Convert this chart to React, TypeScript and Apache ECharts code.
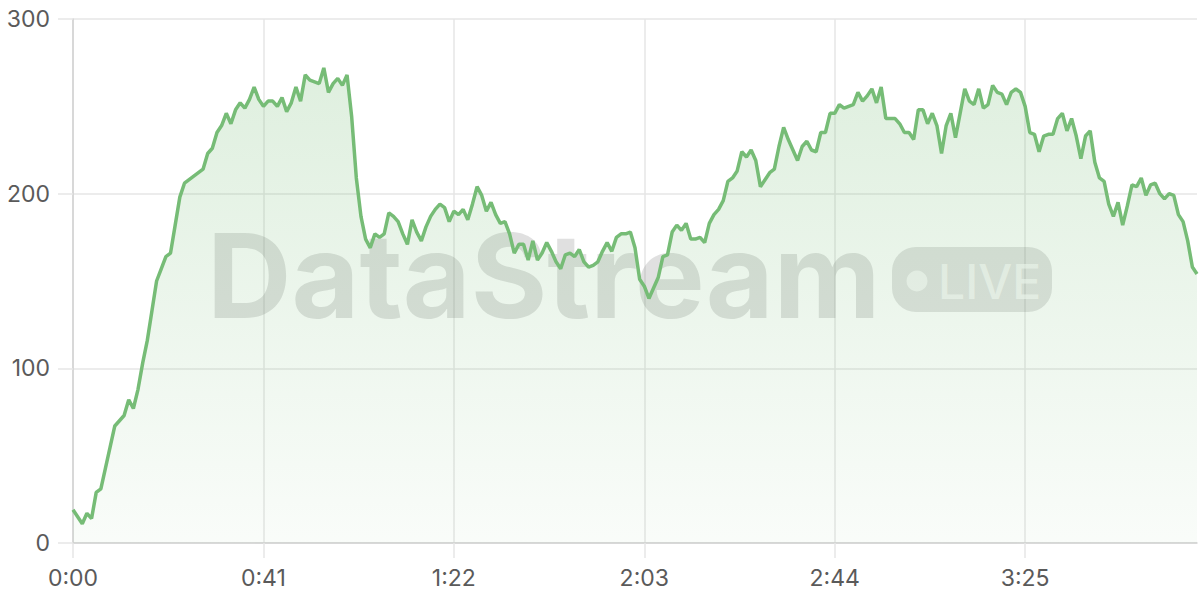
import React, { useEffect, useRef } from "react";
import * as echarts from "echarts";

const values: number[] = [
  19, 15, 11, 17, 14, 29, 31, 43, 55, 67,
  70, 73, 82, 77, 88, 103, 116, 133, 150, 157,
  164, 166, 182, 198, 206, 208, 210, 212, 214, 223,
  226, 235, 239, 246, 240, 248, 252, 249, 254, 261,
  254, 250, 253, 253, 250, 255, 247, 252, 261, 253,
  268, 265, 264, 263, 272, 258, 263, 266, 262, 268,
  244, 209, 187, 174, 169, 177, 175, 177, 189, 187,
  184, 177, 171, 185, 178, 173, 181, 187, 191, 194,
  192, 184, 190, 188, 191, 185, 194, 204, 199, 190,
  195, 188, 183, 184, 177, 166, 171, 171, 162, 173,
  162, 166, 172, 167, 161, 157, 165, 166, 164, 168,
  161, 158, 159, 161, 167, 172, 167, 175, 177, 177,
  178, 169, 151, 147, 140, 146, 152, 164, 165, 178,
  182, 179, 183, 174, 174, 175, 172, 183, 188, 191,
  196, 207, 209, 213, 224, 221, 225, 219, 204, 208,
  212, 214, 227, 238, 231, 225, 219, 227, 230, 225,
  224, 235, 235, 246, 246, 251, 249, 250, 251, 258,
  253, 256, 260, 252, 261, 243, 243, 243, 240, 235,
  235, 231, 248, 248, 240, 246, 239, 223, 239, 246,
  232, 246, 260, 253, 251, 260, 249, 251, 262, 258,
  257, 251, 258, 260, 258, 250, 235, 234, 224, 233,
  234, 234, 243, 246, 236, 243, 233, 220, 233, 236,
  218, 209, 207, 194, 187, 195, 182, 193, 205, 204,
  209, 199, 205, 206, 200, 197, 200, 199, 188, 184,
  173, 158, 154,
];

const fmtTime = (s: number) => `${Math.floor(s / 60)}:${String(s % 60).padStart(2, "0")}`;
const categories: string[] = values.map((_, i) => fmtTime(i));

const yTicks = { min: 0, max: 300, interval: 100 };
const labelEvery = 40;

const watermarkText = "DataStream";
const liveText = "LIVE";

export default function App() {
  const ref = useRef<HTMLDivElement>(null);

  useEffect(() => {
    if (!ref.current) return;
    const chart = echarts.init(ref.current, undefined, { renderer: "svg" });
    const labelColor = "#5a5a5a";
    const font = "Inter, 'Noto Sans', sans-serif";
    chart.setOption({
      animation: false,
      grid: { left: 73, right: 3, top: 19, bottom: 57, containLabel: false },
      xAxis: {
        type: "category",
        boundaryGap: false,
        data: categories,
        axisLine: { show: true, lineStyle: { color: "#d2d2d2", width: 1.5 } },
        axisTick: { show: true, length: 15, interval: labelEvery, lineStyle: { color: "#e6e6e6", width: 1.5 } },
        axisLabel: { interval: labelEvery, color: labelColor, fontSize: 23, fontFamily: font, margin: 23 },
        splitLine: { show: true, interval: labelEvery, lineStyle: { color: "#e6e6e6", width: 1.5 } },
      },
      yAxis: {
        type: "value",
        min: yTicks.min,
        max: yTicks.max,
        interval: yTicks.interval,
        axisLine: { show: true, lineStyle: { color: "#d2d2d2", width: 1.5 } },
        axisTick: { show: true, length: 15, lineStyle: { color: "#e6e6e6", width: 1.5 } },
        axisLabel: { color: labelColor, fontSize: 23, fontFamily: font, margin: 23 },
        splitLine: { show: true, lineStyle: { color: "#e6e6e6", width: 1.5 } },
      },
      graphic: [
        {
          type: "text",
          z: 1,
          left: 207,
          top: 217,
          style: {
            text: watermarkText,
            font: `bold 117px ${font}`,
            fill: "rgba(110,110,110,0.21)",
          },
        },
        {
          type: "rect",
          z: 1,
          shape: { x: 892, y: 247, width: 160, height: 65, r: 24 },
          style: { fill: "rgba(110,110,110,0.2)" },
        },
        {
          type: "circle",
          z: 1,
          shape: { cx: 917, cy: 281, r: 10.5 },
          style: { fill: "rgba(255,255,255,0.65)" },
        },
        {
          type: "text",
          z: 1,
          x: 938,
          y: 281,
          style: {
            text: liveText,
            font: `500 48px ${font}`,
            fill: "rgba(255,255,255,0.65)",
            verticalAlign: "middle",
            align: "left",
          },
        },
      ],
      series: [
        {
          type: "line",
          data: values,
          z: 3,
          showSymbol: false,
          symbol: "none",
          lineStyle: { color: "#76bc76", width: 3.5 },
          itemStyle: { color: "#76bc76" },
          areaStyle: {
            color: new echarts.graphic.LinearGradient(0, 0, 0, 1, [
              { offset: 0, color: "rgba(120,189,120,0.34)" },
              { offset: 1, color: "rgba(120,189,120,0.06)" },
            ]),
          },
        },
      ],
    });
    return () => chart.dispose();
  }, []);

  return (
    <div
      ref={ref}
      style={{ position: "fixed", left: 0, top: 0, width: 1200, height: 600, background: "#fff" }}
    />
  );
}
